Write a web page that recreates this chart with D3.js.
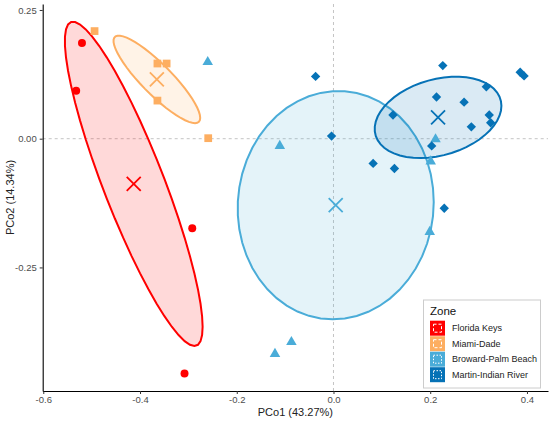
<!DOCTYPE html>
<html>
<head>
<meta charset="utf-8">
<script src="https://cdn.jsdelivr.net/npm/d3@7"></script>
<style>
  body { margin: 0; background: #fff; }
  svg text { font-family: "Liberation Sans", Arial, sans-serif; }
</style>
</head>
<body>
<div id="chart"></div>
<script>
// PCoA scores per zone, [PCo1, PCo2]
const floridaKeys = [[-0.520, 0.186], [-0.532, 0.093], [-0.292, -0.174], [-0.308, -0.456]];
const miamiDade = [[-0.494, 0.209], [-0.364, 0.146], [-0.345, 0.146], [-0.364, 0.074], [-0.259, 0.001]];
const browardPalmBeach = [[-0.260, 0.149], [-0.111, -0.014], [0.211, -0.001], [0.201, -0.044],
  [0.199, -0.181], [-0.087, -0.395], [-0.121, -0.418]];
const martinIndianRiver = [[-0.037, 0.121], [0.226, 0.142], [0.386, 0.129], [0.394, 0.122],
  [0.316, 0.101], [0.213, 0.081], [0.270, 0.071], [0.123, 0.046], [0.322, 0.046], [0.325, 0.031],
  [0.285, 0.023], [-0.004, 0.005], [0.203, -0.014], [0.082, -0.048], [0.126, -0.058], [0.229, -0.135]];

const zones = ["Florida Keys", "Miami-Dade", "Broward-Palm Beach", "Martin-Indian River"];
const zonePoints = [floridaKeys, miamiDade, browardPalmBeach, martinIndianRiver];
const zoneColors = ["#FF0000", "#FDAE61", "#4AACD8", "#0672B6"];
const zoneShapes = [d3.symbolCircle, d3.symbolSquare, d3.symbolTriangle, d3.symbolSquare];

const xTicks = [-0.6, -0.4, -0.2, 0, 0.2, 0.4];
const yTicks = [-0.25, 0, 0.25];
const ellipseLevel = 0.3935;

const layout = {
  width: 550,
  height: 421,
  left: 42.7,
  right: 548,
  top: 4,
  bottom: 391
};

const svg = d3.select("#chart").append("svg")
  .attr("width", layout.width)
  .attr("height", layout.height);

const x = d3.scaleLinear().domain([-0.6012, 0.4435]).range([layout.left, layout.right]);
const y = d3.scaleLinear().domain([-0.49, 0.2616]).range([layout.bottom, layout.top]);

// zero lines
svg.append("line")
  .attr("x1", x(0)).attr("x2", x(0))
  .attr("y1", layout.top).attr("y2", layout.bottom)
  .attr("stroke", "#bdbdbd").attr("stroke-width", 0.9).attr("stroke-dasharray", "3,3");
svg.append("line")
  .attr("x1", layout.left).attr("x2", layout.right)
  .attr("y1", y(0)).attr("y2", y(0))
  .attr("stroke", "#bdbdbd").attr("stroke-width", 0.9).attr("stroke-dasharray", "3,3");

// F quantile for dfn = 2 (closed form)
function qf2(p, d) {
  return d / 2 * (Math.pow(1 - p, -2 / d) - 1);
}

// normal-theory ellipse like stat_ellipse(type = "norm")
function ellipsePoints(pts) {
  const n = pts.length;
  const mx = d3.mean(pts, d => d[0]);
  const my = d3.mean(pts, d => d[1]);
  let sxx = 0, syy = 0, sxy = 0;
  pts.forEach(d => {
    sxx += (d[0] - mx) ** 2;
    syy += (d[1] - my) ** 2;
    sxy += (d[0] - mx) * (d[1] - my);
  });
  sxx /= n - 1; syy /= n - 1; sxy /= n - 1;
  const a = Math.sqrt(sxx);
  const b = sxy / a;
  const c = Math.sqrt(syy - b * b);
  const r = Math.sqrt(2 * qf2(ellipseLevel, n - 1));
  const out = [];
  for (let i = 0; i < 52; i++) {
    const t = i / 51 * 2 * Math.PI;
    const ct = Math.cos(t), st = Math.sin(t);
    out.push([mx + r * ct * a, my + r * (ct * b + st * c)]);
  }
  return out;
}

const ellipseLine = d3.line()
  .x(d => x(d[0]))
  .y(d => y(d[1]))
  .curve(d3.curveLinearClosed);

zonePoints.forEach((pts, i) => {
  svg.append("path")
    .attr("d", ellipseLine(ellipsePoints(pts)))
    .attr("fill", zoneColors[i])
    .attr("fill-opacity", 0.15)
    .attr("stroke", zoneColors[i])
    .attr("stroke-width", 2);
});

// points
const symbolSizes = [50, 60, 48, 44];
zonePoints.forEach((pts, i) => {
  svg.append("g").selectAll("path")
    .data(pts)
    .join("path")
    .attr("transform", d => `translate(${x(d[0])},${y(d[1])})` + (i === 3 ? " rotate(45)" : ""))
    .attr("d", d3.symbol().type(zoneShapes[i]).size(symbolSizes[i]))
    .attr("fill", zoneColors[i]);
});

// centroids
zonePoints.forEach((pts, i) => {
  const cx = x(d3.mean(pts, d => d[0]));
  const cy = y(d3.mean(pts, d => d[1]));
  const s = 7;
  svg.append("path")
    .attr("d", `M${cx - s},${cy - s}L${cx + s},${cy + s}M${cx - s},${cy + s}L${cx + s},${cy - s}`)
    .attr("stroke", zoneColors[i])
    .attr("stroke-width", 1.8)
    .attr("fill", "none");
});

// axes
const xAxis = svg.append("g")
  .attr("transform", `translate(0,${layout.bottom})`)
  .call(d3.axisBottom(x).tickValues(xTicks).tickFormat(d => d.toFixed(1)).tickSize(3).tickSizeOuter(0));
const yAxis = svg.append("g")
  .attr("transform", `translate(${layout.left},0)`)
  .call(d3.axisLeft(y).tickValues(yTicks).tickFormat(d => d.toFixed(2)).tickSize(3).tickSizeOuter(0));

[xAxis, yAxis].forEach(ax => {
  ax.select(".domain").attr("stroke", "#000").attr("stroke-width", 1.1);
  ax.selectAll(".tick line").attr("stroke", "#333");
  ax.selectAll("text").attr("fill", "#4d4d4d").attr("font-size", 9.5)
    .style("font-family", "'Liberation Sans', Arial, sans-serif");
});
xAxis.selectAll("text").attr("y", 5);

svg.append("text")
  .attr("x", (layout.left + layout.right) / 2)
  .attr("y", 416)
  .attr("text-anchor", "middle")
  .attr("font-size", 11)
  .attr("fill", "#222")
  .text("PCo1 (43.27%)");

svg.append("text")
  .attr("transform", `translate(14,${(layout.top + layout.bottom) / 2}) rotate(-90)`)
  .attr("text-anchor", "middle")
  .attr("font-size", 11)
  .attr("fill", "#222")
  .text("PCo2 (14.34%)");

// legend
const legend = svg.append("g").attr("transform", "translate(423.5,300)");
legend.append("rect")
  .attr("width", 117).attr("height", 88)
  .attr("fill", "#fff")
  .attr("stroke", "#cccccc").attr("stroke-width", 1);
legend.append("text")
  .attr("x", 6.5).attr("y", 15)
  .attr("font-size", 11.5)
  .attr("fill", "#111")
  .text("Zone");

zones.forEach((z, i) => {
  const ky = 20.7 + i * 15.5;
  const key = legend.append("g").attr("transform", `translate(6.5,${ky})`);
  key.append("rect")
    .attr("width", 15).attr("height", 15)
    .attr("fill", zoneColors[i]);
  key.append("rect")
    .attr("x", 3.5).attr("y", 3.5)
    .attr("width", 8).attr("height", 8)
    .attr("fill", "none")
    .attr("stroke", "#fff")
    .attr("stroke-width", 1)
    .attr("stroke-dasharray", i < 2 ? "3,2" : "1.5,1.5");
  legend.append("text")
    .attr("x", 28.5).attr("y", ky + 7.5)
    .attr("dy", "0.35em")
    .attr("font-size", 9)
    .attr("fill", "#222")
    .text(z);
});
</script>
</body>
</html>
